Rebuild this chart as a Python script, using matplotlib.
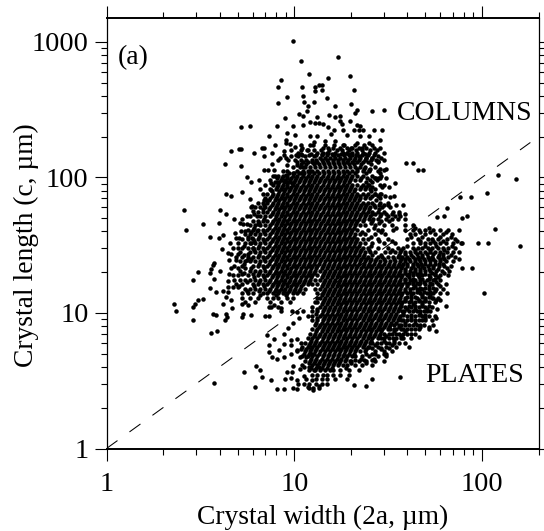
import matplotlib
matplotlib.use("Agg")
import numpy as np
import matplotlib.pyplot as plt
from matplotlib.ticker import LogLocator, NullFormatter

plt.rcParams['font.family'] = ['Liberation Serif', 'DejaVu Serif']

# isolated crystals (width, length)
upper_points = [
    (9.8,1020),(10.9,728),(12,577),(8.5,524),(8.2,462),(11,462),(12.9,465),(12.9,437),(13.6,484),(11.2,402),
    (9.2,390),(8.2,352),(11.3,360),(12.7,360),(11.9,335),(11.7,311),(10.6,295),(11.2,282),(8.9,273),(13.2,279),
    (12.9,252),(12.2,256),(13.6,252),(11.1,244),(9.9,241),(8.08,238),(5.82,241),(5.2,237),(9.2,211),(10.1,205),
    (7.36,202),(12.2,201),(13.2,201),(9,190),(12.7,184),(7.9,174),(9.05,179),(9.5,176),(10.1,168),(11,166),
    (12.2,174),(6.86,165),(6.7,165),(5.2,163),(5.05,163),(4.61,156),(6.14,151),(7.6,151),(6.86,143),(8.8,156),
    (10.5,151),(11.9,160),(8.4,139),(9,139),(9.6,144),(10.5,143),(11.4,143),(12.7,143),(4.26,125),(5.2,122),
    (7.6,125),(6.86,113),(7.24,113),(7.8,113),(9.15,124),(10.3,124),(11.2,120),(12.7,128),(5.6,100),(5.92,93),
    (6.53,95),(7.9,102),(9,105),(9.9,108),(10.8,108),(12.2,111),(4.34,75),(4.63,73),(5.24,78),(5.78,69.5),
    (5.95,62),(7.5,91),(7.5,81),(8.08,93),(9.15,93),(9.7,91),(2.6,57.3),(4,57.3),(4.34,54),(6.04,56.6),
    (6.86,68),(7.1,68),(6.78,58),(4.77,49.4),(5.24,49),
    (17.2,776),(15.1,542),(19.7,561),(20.7,444),(14,484),(14,440),(15,386),(16.5,338),(20,348),(21.6,316),
    (26,311),(30,316),(15.4,290),(16.4,279),(17.6,282),(21,300),(17.6,259),(18,249),(19.8,259),(21.6,244),
    (22.3,241),(14.2,249),(15.2,235),(16.3,225),(20.7,225),(22,225),(26.5,223),(29.3,223),(25,201),(28.6,190),
    (22.5,201),(19,205),(16.5,186),(14.6,186),(15.7,210),(25,179),(26,172),(30,151),(21.6,179),(20,165),
    (23,165),(18.2,172),(28,144),(15,151),(16.3,147),(19,151),(20.4,147),(22,143),(24,140),(26,138),(28,132),
]
side_points = [
    (39.6,128),(42.8,128),(45.5,114),(48.6,114),(34.6,91),(121,104),(152,97),(106,77),(76.5,72),(87,72),
    (65.5,59),(57.7,51),(62.5,52),(78.4,50),(83,52),(32.2,72),(27,75),(28.5,75),(30,88),(25,88),(27,99),
    (28.5,99),(28.5,108),(30,114),(25,114),
    (117.6,41.9),(95.8,33),(108,33),(158.5,31),(88,21.4),(77.8,21.4),(102.7,14.1),(75.6,24.8),(78.7,32.6),
    (36.8,3.39),(25.8,3.26),(24,2.91),(20.8,2.94),(41,5.65),(46.4,6.62),(56.7,7.42),(52.5,7.94),(56.7,9.2),
    (64.7,11.2),(57.9,10.7),(59.6,12.4),(54.9,12.8),
]
left_points = [
    (2.65,40.7),(3.28,45),(3.96,45.9),(3.56,36.6),(3.96,35.6),(4.17,37.4),(4.86,39.2),(5.15,46.4),(4.13,29.5),
    (4.46,27.5),(4.54,32.6),(3.72,23.5),(3.68,22.6),(3.09,19.9),(3.59,21),(3.56,19.8),(4.03,20.4),(2.88,17.4),
    (3.72,17.7),(3.56,15.3),(3.84,14.3),(4.17,14.5),(4.46,17.3),(4.43,15.6),(4.46,14.3),(4.34,13.2),(4.61,12.4),
    (4.67,10.9),(4.17,11.7),(3.26,12.7),(3.09,12.5),(2.96,11.6),(2.9,11),(2.29,11.7),(2.34,10.3),(2.9,8.9),
    (3.67,9.9),(3.84,9.7),(4.34,9.9),(4.37,9.4),(4.3,8.8),(5.24,9.4),(5.32,9.9),(5.87,9.7),(5.69,11.4),(5.24,11.7),
    (6.95,9.5),(7.3,9.5),(3.62,7.1),(3.9,7.4),(7.18,6.85),(7.76,6.47),(8.85,7),(9.3,7.7),(9.8,8.45),(10.6,9.2),
    (10.4,10.2),(9.7,10.4),(8.5,10.8),(7.76,11.4),(7.3,11),
    (5.39,3.67),(6.24,4.04),(6.61,3.78),(6.75,3.35),(7.5,3.22),(3.76,3.04),(6.17,2.83),(8.1,2.76),(8.85,2.73),
    (9.9,2.8),(10.3,2.76),(8.9,3.27),(9.6,3.3),(10.3,3.22),(9.1,3.67),(9.7,3.67),(9.9,4.06),(7.3,5.78),(7.3,5.16),
    (7.6,4.74),(8.1,4.6),(8.85,4.74),(8.3,5.3),(8.85,5.9),(9.6,5.78),(9.6,6.3),(10.3,6.47),(10.9,6.05),(10.9,5.46),
    (10.3,5.3),(9.6,5),(10.7,4.74),(11.5,4.74),(12.4,5),(11.3,4),(10.7,3.88),(12,4),(11.3,3.43),(12.4,3.18),
    (11.3,3),(11.9,2.84),(12.6,2.69),(13.6,2.88),(12.7,3.78),(13.6,4),
]

# crowded cores, estimated row by row: (length, [widths along that row])
upper_rows = [
    (223, [18.1,23.1]),
    (164, [14.2,15.1,16,17.5,19,20.4,22,24,26.5,28.6]),
    (152, [13.3,14.2,15.1,16.5,18.1,19.2,20.4,21.7,23.1,25,27]),
    (140, [13.7,14.65,15.55,16.5,17.5,18.65,19.8,21,22.4,24,26.1,29]),
    (130, [10.4,11.1,11.8,12.5,13.3,14.2,15.1,16,17,18.1,19.2,20.4,21.7,23.1,24.6,28]),
    (120, [9.8,10.75,11.45,12.15,12.9,13.7,14.65,15.55,16.5,17.5,18.65,19.8,21,22.4,23.8,26.9]),
    (111, [8.7,9.2,10.4,11.1,11.8,12.5,13.3,14.2,15.1,16,17,18.1,19.2,20.4,21.7,23.1,25,27.8]),
    (103, [7.7,8.2,8.7,9.2,9.8,10.4,11.1,11.8,12.5,13.3,14.2,15.1,16,17,18.1,19.2,20.4,21.7,23.1,26.1,29]),
    (95.4, [7.45,8.45,8.95,9.5,10.1,10.75,11.45,12.15,12.9,13.7,14.65,15.55,16.5,17.5,18.65,19.8,21,22.4,25.35,27.5]),
    (88.4, [7,7.7,8.2,8.7,9.2,9.8,10.4,11.1,11.8,12.5,13.3,14.2,15.1,16,17,18.1,19.2,20.4,21.7,23.1,24.6,28.5]),
    (81.8, [6.6,7.45,7.95,8.45,8.95,9.5,10.1,10.75,11.45,12.15,12.9,13.7,14.65,15.55,16.5,17.5,18.65,19.8,21,22.4,23.8,25.35,27]),
    (75.8, [6.8,7.2,7.7,8.2,8.7,9.2,9.8,10.4,11.1,11.8,12.5,13.3,14.2,15.1,16,17,18.1,19.2,20.4,21.7,23.1,24.6,27,29]),
    (70.2, [7,7.45,7.95,8.45,8.95,9.5,10.1,10.75,11.45,12.15,12.9,13.7,14.65,15.55,16.5,17.5,18.65,19.8,21,22.4,23.8,25.35,28.6]),
    (65, [6.4,6.8,7.2,7.7,8.2,8.7,9.2,9.8,10.4,11.1,11.8,12.5,13.3,14.2,15.1,16,17,18.1,19.2,20.4,21.7,23.1,24.6,26.1,28.5,31.4]),
    (60.2, [6.6,7,7.45,7.95,8.45,8.95,9.5,10.1,10.75,11.45,12.15,12.9,13.7,14.65,15.55,16.5,17.5,18.65,19.8,21,22.4,23.8,25.35,26.9,29.5,32.4]),
    (55.7, [6.4,6.8,7.2,7.7,8.2,8.7,9.2,9.8,10.4,11.1,11.8,12.5,13.3,14.2,15.1,16,17,18.1,19.2,20.4,21.7,23.1,24.6,26.1,27.8,30,33.4,36]),
    (51.6, [5.8,6.6,7,7.45,7.95,8.45,8.95,9.5,10.1,10.75,11.45,12.15,12.9,13.7,14.65,15.55,16.5,17.5,18.65,19.8,21,22.4,23.8,25.35,28.65,31.4,34.4,36.6]),
    (47.8, [6,6.4,6.8,7.2,7.7,8.2,8.7,9.2,9.8,10.4,11.1,11.8,12.5,13.3,14.2,15.1,16,17,18.1,19.2,20.4,21.7,23.1,26,29,32]),
    (44.3, [5.8,6.2,6.6,7,7.45,7.95,8.45,8.95,9.5,10.1,10.75,11.45,12.15,12.9,13.7,14.65,15.55,16.5,17.5,18.65,19.8,21,22.4,23.8,27,30,33,39,42.7]),
    (41, [5.65,6,6.4,6.8,7.2,7.7,8.2,8.7,9.2,9.8,10.4,11.1,11.8,12.5,13.3,14.2,15.1,16,17,18.1,19.2,20.4,21.7,24.6,27.8,29.5,33.4,39,42.7,46,50,55,60,66,75]),
    (38, [5.5,5.8,6.2,6.6,7,7.45,7.95,8.45,8.95,9.5,10.1,10.75,11.45,12.15,12.9,13.7,14.65,15.55,16.5,17.5,18.65,19.8,21,22.4,23.8,26.9,30.4,41.3,44,49.7,56.2,62,69]),
    (35.2, [5.3,5.65,6,6.4,6.8,7.2,7.7,8.2,8.7,9.2,9.8,10.4,11.1,11.8,12.5,13.3,14.2,15.1,16,17,18.1,19.2,20.4,21.7,23.1,24.6,27.8,31.4,40,45.4,51.3,54.5,58,65,72]),
    (32.6, [5.5,5.8,6.2,6.6,7,7.45,7.95,8.45,8.95,9.5,10.1,10.75,11.45,12.15,12.9,13.7,14.65,15.55,16.5,17.5,18.65,19.8,21,22.4,23.8,26,30,34.4,43,46.8,49.7,52.9,56.2,59.8,64,70,77]),
    (30.2, [5,5.65,6,6.4,6.8,7.2,7.7,8.2,8.7,9.2,9.8,10.4,11.1,11.8,12.5,13.3,14.2,15.1,16,17,18.1,19.2,20.4,21.7,23.1,24.6,27.8,31.4,35.5,38,42.7,45.4,48.2,51.3,54.5,58,61.7,66,72]),
    (28, [5.15,5.8,6.2,6.6,7,7.45,7.95,8.45,8.95,9.5,10.1,10.75,11.45,12.15,12.9,13.7,14.65,15.55,16.5,17.5,18.65,19.8,21,22.4,23.8,25.35,26.9,30.4,32.4,34.4,36.6,38.9,41.3,44,46.8,49.7,52.9,56.2,60,65,70,75]),
    (25.9, [4.9,5.3,5.65,6,6.4,6.8,7.2,7.7,8.2,8.7,9.2,9.8,10.4,11.1,11.8,12.5,13.3,14.2,15.1,16,17,18.1,19.2,20.4,21.7,23.1,24.6,27.8,29.5,31.4,33.4,35.5,37.7,40.1,42.7,45.4,48.2,51.3,54.5,58,62,66,72]),
    (24, [5.15,5.5,5.8,6.2,6.6,7,7.45,7.95,8.45,8.95,9.5,10.1,10.75,11.45,12.15,12.9,13.7,14.65,15.55,16.5,17.5,18.65,19.8,21,22.4,23.8,25.35,26.9,28.65,30.4,32.4,34.4,36.6,38.9,41.3,44,46.8,49.7,52.9,56.2,60,64,70]),
]
lower_rows = [
    (22.2, [4.8,5.3,6,6.4,6.8,7.2,7.7,8.2,8.7,9.2,9.8,10.4,11.1,11.8,12.5,13.3,14.2,15.1,16,17,18.1,19.2,20.4,21.7,23.1,24.6,26.1,27.8,29.5,31.4,33.4,35.5,37.7,40.1,42.7,45.4,48.2,51.3,55,59,63,68]),
    (20.5, [5.15,5.8,6.2,6.6,7,7.45,7.95,8.45,8.95,9.5,10.1,10.75,11.45,12.15,12.9,13.7,14.65,15.55,16.5,17.5,18.65,19.8,21,22.4,23.8,25.35,26.9,28.65,30.4,32.4,34.4,36.6,38.9,41.3,44,46.8,49.7,52.9,57,61,67]),
    (19, [4.7,5,5.65,6.4,6.8,7.2,7.7,8.2,8.7,9.2,9.8,10.4,11.1,11.8,12.5,13.3,14.2,15.1,16,17,18.1,19.2,20.4,21.7,23.1,24.6,26.1,27.8,29.5,31.4,33.4,35.5,37.7,40.1,42.7,45.4,48.2,52,56,60,66]),
    (17.6, [5.15,5.8,6.2,6.6,7,7.45,7.95,8.45,8.95,9.5,10.1,10.75,11.45,12.15,12.9,13.7,14.65,15.55,16.5,17.5,18.65,19.8,21,22.4,23.8,25.35,26.9,28.65,30.4,32.4,34.4,36.6,38.9,41.3,44,47,51,55,60]),
    (16.3, [4.9,5.3,6,6.4,6.8,7.2,7.7,8.2,8.7,9.2,9.8,10.4,11.1,11.8,12.5,13.3,14.2,15.1,16,17,18.1,19.2,20.4,21.7,23.1,24.6,26.1,27.8,29.5,31.4,33.4,35.5,37.7,40.1,43,46,50,54,58,64]),
    (15.1, [5.5,5.8,6.2,6.6,7,7.45,7.95,8.45,8.95,9.5,10.1,10.75,11.45,12.9,13.7,14.65,15.55,16.5,17.5,18.65,19.8,21,22.4,23.8,25.35,26.9,28.65,30.4,32.4,34.4,36.6,38.9,41.3,45,48,52,57,62]),
    (14, [5.3,5.65,6,6.8,7.2,7.7,8.2,8.7,9.2,9.8,10.4,11.1,13.3,14.2,15.1,16,17,18.1,19.2,20.4,21.7,23.1,24.6,26.1,27.8,29.5,31.4,33.4,35.5,37.7,40.1,43,47,51,55,60,65]),
    (13, [5.3,5.8,6.4,7.2,7.7,8.2,9.2,9.8,13.3,13.7,14.65,15.55,16.5,17.5,18.65,19.8,21,22.4,23.8,25.35,26.9,28.65,30.4,32.4,34.4,36.6,39,42,45,50,54,58]),
    (12, [5.5,6.2,7.45,8.45,9.5,12.9,13.3,14.2,15.1,16,17,18.1,19.2,20.4,21.7,23.1,24.6,26.1,27.8,29.5,31.4,33.4,35.5,37.7,41,44,48,52,56]),
    (11.1, [7.5,8.2,12.5,13.7,14.65,15.55,16.5,17.5,18.65,19.8,21,22.4,23.8,25.35,26.9,28.65,30.4,32.4,34.4,36.6,39,42,46,50,54]),
    (10.3, [8.5,11.1,12.5,13.3,14.2,15.1,16,17,18.1,19.2,20.4,21.7,23.1,24.6,26.1,27.8,29.5,31.4,33.4,35.5,37.7,41,45,49,53]),
    (9.5, [11.8,12.5,13.7,14.65,15.55,16.5,17.5,18.65,19.8,21,22.4,23.8,25.35,26.9,28.65,30.4,32.4,34.4,36.6,40,44,48,52,56]),
    (8.8, [12.5,13.3,14.2,15.1,16,17,18.1,19.2,20.4,21.7,23.1,24.6,26.1,27.8,29.5,31.4,33.4,35.5,38,42,46,50,54]),
    (8.2, [12.9,13.7,14.65,15.55,16.5,17.5,18.65,19.8,21,22.4,23.8,25.35,26.9,28.65,30.4,32.4,34,37,41,45,49,55]),
    (7.6, [12.5,13.3,14.2,15.1,16,17,18.1,19.2,20.4,21.7,23.1,24.6,26.1,27.8,29.5,31.4,32.4,35,38,42,46,52]),
    (7, [12.15,12.9,13.7,14.65,15.55,16.5,17.5,18.65,19.8,21,22.4,23.8,25.35,26.9,28.65,30,33,36,40,44]),
    (6.5, [11.8,12.5,13.3,14.2,15.1,16,17,18.1,19.2,20.4,21.7,23.1,24.6,26.1,27.8,29,32,35,38,42]),
    (6, [11.45,12.15,12.9,13.7,14.65,15.55,16.5,17.5,18.65,19.8,21,22.4,23.8,25.35,26,29,32,36,39]),
    (5.6, [11,11.8,12.5,13.3,14.2,15.1,16,17,18.1,19.2,20.4,21.7,23.1,24.6,25,28,31,35]),
    (5.2, [10.4,11.45,12.15,12.9,13.7,14.65,15.55,16.5,17.5,18.65,19.8,21,22.4,23.8,27,30,33]),
    (4.8, [11,11.8,12.5,13.3,14.2,15.1,16,17,18.1,19.2,20.4,21,23,25,28,31]),
    (4.4, [11.4,12.15,12.9,13.7,14.65,15.55,16.5,17.5,18.65,19.8,20,22,24,27,30]),
    (4.1, [11,12.5,13.3,14.2,15.1,16,17,18.1,19,21,23,26]),
    (3.8, [12,12.9,13.7,14.65,15.55,16,17.5,19.5,22]),
    (3.5, [12.5,13.3,14.2,15,16,17.5,19.5]),
    (3.25, [11.5,13,14,15,16.5,19]),
    (3, [10.5,12,13,14,15]),
    (2.8, [12,12.6,13.5]),
]
# in-between rows that close up the solid black cores
column_fill_rows = [
    (150, [10.9,12.3,14,15.8,17.8,20.1,23.7]),
    (125, [10.9,11.6,12.7,13.5,14.4,15.3,16.25,17.25,18.35,19.5,20.8,22.6,25.5]),
    (107, [9.35,9.95,10.6,11.25,12,12.7,13.5,14.4,15.3,16.25,17.25,18.35,19.5,21.1,24.2]),
    (99, [8.05,8.6,9.1,9.65,10.25,10.9,11.6,12.3,13.1,13.95,14.9,15.8,16.8,17.8,18.9,20.1,22.8,26.8]),
    (92, [7.85,8.3,8.85,9.35,9.95,10.6,11.25,12,12.7,13.5,14.4,15.3,16.25,17.25,18.35,19.5,24,26]),
    (85, [8.05,8.6,9.1,9.65,10.25,10.9,11.6,12.3,13.1,13.95,14.9,15.8,16.8,17.8,18.9,20.1,22.7]),
    (78.8, [7.6,8.3,8.85,9.35,9.95,10.6,11.25,12,12.7,13.5,14.4,15.3,16.25,17.25,18.35,19.5,20.8,25.7]),
    (72.9, [7.6,8.05,8.6,9.1,9.65,10.25,10.9,11.6,12.3,13.1,13.95,14.9,15.8,16.8,17.8,18.9,20.1,21.4,24.2]),
    (67.6, [7.3,7.85,8.3,8.85,9.35,9.95,10.6,11.25,12,12.7,13.5,14.4,15.3,16.25,17.25,18.35,19.5,20.8,22,27.3]),
    (62.6, [6.9,7.6,8.05,8.6,9.1,9.65,10.25,10.9,11.6,12.3,13.1,13.95,14.9,15.8,16.8,17.8,18.9,20.1,21.4,22.7,30]),
    (58, [7.3,7.85,8.3,8.85,9.35,9.95,10.6,11.25,12,12.7,13.5,14.4,15.3,16.25,17.25,18.35,19.5,20.8,22,23.4,25,28.2]),
    (53.6, [6.1,7.6,8.05,8.6,9.1,9.65,10.25,10.9,11.6,12.3,13.1,13.95,14.9,15.8,16.8,17.8,18.9,20.1,21.4,22.7,24.2,27,33]),
    (49.7, [6.9,7.85,8.3,8.85,9.35,9.95,10.6,11.25,12,12.7,13.5,14.4,15.3,16.25,17.25,18.35,19.5,20.8,22,24.9,30.9]),
    (46, [6.5,7.6,8.05,8.6,9.1,9.65,10.25,10.9,11.6,12.3,13.1,13.95,14.9,15.8,16.8,17.8,18.9,20.1,21.4,25.7,28.2]),
    (42.6, [6.1,7.3,7.85,8.3,8.85,9.35,9.95,10.6,11.25,12,12.7,13.5,14.4,15.3,16.25,17.25,18.35,19.5,20.8,26.5,35,44,52]),
    (39.5, [5.9,6.9,7.6,8.05,8.6,9.1,9.65,10.25,10.9,11.6,12.3,13.1,13.95,14.9,15.8,16.8,17.8,18.9,20.1,23,29,47,53,64]),
    (36.6, [5.7,6.5,7.3,7.85,8.3,8.85,9.35,9.95,10.6,11.25,12,12.7,13.5,14.4,15.3,16.25,17.25,18.35,19.5,20.8,25.7,42,48,60,68]),
    (33.9, [6.1,6.9,7.6,8.05,8.6,9.1,9.65,10.25,10.9,11.6,12.3,13.1,13.95,14.9,15.8,16.8,17.8,18.9,20.1,21.4,28.2,33,47,55,62,74]),
    (31.4, [5.4,6.5,7.3,7.85,8.3,8.85,9.35,9.95,10.6,11.25,12,12.7,13.5,14.4,15.3,16.25,17.25,18.35,19.5,20.8,22,25.7,40,50,57,69]),
    (29, [6.1,6.9,7.6,8.05,8.6,9.1,9.65,10.25,10.9,11.6,12.3,13.1,13.95,14.9,15.8,16.8,17.8,18.9,20.1,21.4,22.7,24.9,33,37,44,53,63]),
    (26.9, [5.4,6.5,7.3,7.85,8.3,8.85,9.35,9.95,10.6,11.25,12,12.7,13.5,14.4,15.3,16.25,17.25,18.35,19.5,20.8,22,23.4,26,29,36,42,48,59,68]),
    (25, [5.9,6.9,7.6,8.05,8.6,9.1,9.65,10.25,10.9,11.6,12.3,13.1,13.95,14.9,15.8,16.8,17.8,18.9,20.1,21.4,22.7,24.2,25.7,27.3,30,34,39,46,52,63]),
    (23.1, [5.4,6.5,7.3,7.85,8.3,8.85,9.35,9.95,10.6,11.25,12,12.7,13.5,14.4,15.3,16.25,17.25,18.35,19.5,20.8,22,23.4,24.9,26.5,28.2,30,31.9,33.9,36,38,43,47.5,53,59]),
    (21.3, [5.9,6.9,7.6,8.05,8.6,9.1,9.65,10.25,10.9,11.6,12.3,13.1,14,14.9,15.8,16.8,17.8,18.9,20.1,21.4,22.7,24.2,25.7,27.3,29,30.9,32.9,35,37.2,42,49,55,65]),
    (19.8, [5.4,6.5,7.3,7.85,8.3,8.85,9.35,9.95,10.6,11.25,12,12.7,14.4,15.3,16.25,17.25,18.35,19.5,20.8,22,23.4,24.9,26.5,28.2,30,31.9,33.9,36,39,43,47,54,63]),
    (18.3, [6.1,6.9,7.6,8.05,8.6,9.1,9.65,10.25,10.9,11.6,12.3,14,14.9,15.8,16.8,17.8,18.9,20.1,21.4,22.7,24.2,25.7,27.3,29,30.9,32.9,35,37.2,41,46,53,58]),
    (17, [5.6,6.5,7.3,7.85,8.3,8.85,9.35,9.95,10.6,11.25,12,14.4,15.3,16.25,17.25,18.35,19.5,20.8,22,23.4,24.9,26.5,28.2,30,31.9,33.9,36,39,43,49,57]),
    (15.7, [5.1,6.1,6.9,7.6,8.05,8.6,9.1,9.65,10.25,10.9,14,14.9,15.8,16.8,17.8,18.9,20.1,21.4,22.7,24.2,25.7,27.3,29,30.9,32.9,35,37.2,40,44,52,60]),
    (14.6, [5.6,6.5,7.3,7.85,8.3,8.85,9.35,9.95,10.6,14.4,15.3,16.25,17.25,18.35,19.5,20.8,22,23.4,24.9,26.5,28.2,30,31.9,33.9,36,39,46,56]),
]
plate_fill_rows = [
    (13.5, [6.6,8,9,14,14.9,15.8,16.8,17.8,18.9,20.1,21.4,22.7,24.2,25.7,27.3,29,30.9,32.9,35,37.2,42,48,53]),
    (12.5, [14.4,15.3,16.25,17.25,18.35,19.5,20.8,22,23.4,24.9,26.5,28.2,30,31.9,33.9,36,39,46,50,57]),
    (11.6, [14,14.9,15.8,16.8,17.8,18.9,20.1,21.4,22.7,24.2,25.7,27.3,29,30.9,32.9,35,37.2,43,48]),
    (10.7, [13.2,14.4,15.3,16.25,17.25,18.35,19.5,20.8,22,23.4,24.9,26.5,28.2,30,31.9,33.9,36,40,44,51]),
    (9.9, [13.1,14,14.9,15.8,16.8,17.8,18.9,20.1,21.4,22.7,24.2,25.7,27.3,29,30.9,32.9,35,38,47]),
    (9.15, [13.2,14.4,15.3,16.25,17.25,18.35,19.5,20.8,22,23.4,24.9,26.5,28.2,30,31.9,33.9,36,42,50]),
    (8.5, [13.1,14,14.9,15.8,16.8,17.8,18.9,20.1,21.4,22.7,24.2,25.7,27.3,29,30.9,32.9,35,39,44]),
    (7.9, [13.5,14.4,15.3,16.25,17.25,18.35,19.5,20.8,22,23.4,24.9,26.5,28.2,30,31.9,36,47]),
    (7.3, [13,14,14.9,15.8,16.8,17.8,18.9,20.1,21.4,22.7,24.2,25.7,27.3,29,34,39]),
    (6.75, [12.7,13.5,14.4,15.3,16.25,17.25,18.35,19.5,20.8,22,23.4,24.9,26.5,28.2,31,37]),
    (6.25, [12.3,13.1,14,14.9,15.8,16.8,17.8,18.9,20.1,21.4,22.7,24.2,25.7,30,34]),
    (5.8, [12,12.7,13.5,14.4,15.3,16.25,17.25,18.35,19.5,20.8,22,23.4,27,33]),
    (5.4, [11.6,12.3,13.1,14,14.9,15.8,16.8,17.8,18.9,20.1,21.4,24.2,29]),
    (5, [11.25,12,12.7,13.5,14.4,15.3,16.25,17.25,18.35,19.5,20.8,26,31]),
    (4.6, [12.3,13.1,14,14.9,15.8,16.8,17.8,18.9,22.7,26.5]),
    (4.25, [12,12.7,13.5,14.4,15.3,16.25,17.25,20.1,24.2]),
    (3.95, [12.3,13.1,14,14.9,15.8,18.9]),
]
# the looser fringe around the two cores
fringe_rows = [
    (172, [10.8,12.6,14.5,16.2,18.5,21,23.5]),
    (158, [9.6,10.8,11.7,12.8,13.9,15.4,16.8,18,19.6,21.2,23,25.4,27.5]),
    (146, [8.8,10.2,11,12,13,14,15,16.1,17.1,18.3,19.5,21.2,23,24.8,26.6]),
    (135, [8.2,9.3,10.1,10.8,11.6,12.4,13.1,14,15,16,17.1,18.2,19.4,20.7,22,23.7,25.5,27.4,30]),
    (116, [21.5,23.4,25.4,28.5,31]),
    (99, [24.5,28,31]),
    (85, [24,26,29.5,32]),
    (72.9, [22.5,26,27.8,30.5,34]),
    (62.6, [24.2,26.5,28.3,31.5,35,38]),
    (53.6, [25.8,29,31,36,39]),
    (49.7, [23.5,26.4,28,33,35.5,39]),
    (27, [39,45,51,55,62]),
    (24.8, [37,41,44,49,55,60]),
    (22.8, [40,45,50,56,62]),
    (21, [39,44,47,52,58]),
    (19.4, [41,45,50,56]),
    (17.9, [39,43,48,52,56]),
    (16.7, [41,45,47,53]),
    (15.4, [43,47,50,55]),
    (14.2, [41.5,45,49,53]),
    (13.2, [40,44,48,52]),
    (12.2, [39,42,46,50]),
    (11.3, [37,41,44,48,52]),
    (10.4, [38.5,43,47,51]),
    (9.6, [38,42,46,50]),
    (8.9, [37,40,44,48]),
    (8.2, [36,39,43,47]),
    (7.6, [34,37,40,44]),
    (7, [32,35,38,42]),
    (6.5, [30,33.5,37]),
    (6, [27.5,31,34]),
    (5.5, [26,29,32]),
    (5, [24,27,30]),
    (4.5, [21,23.5,26]),
    (60, [5.9,6.2]),
    (52, [5.6,6.3]),
    (45, [5.35,5.6,6.4]),
    (40, [5.2,5.5,6.3]),
    (36, [4.9,5.1,5.95]),
    (33, [5,5.9]),
    (30, [4.7,5.3,6]),
    (27, [4.6,5,5.7]),
    (24.5, [4.5,4.9,5.6]),
    (21.5, [4.6,5,5.5]),
    (19.5, [4.5,5.3,6]),
    (17.5, [4.8,5.5]),
    (15.5, [4.7,5]),
]

guide_ends = [1, 181]
x_ticks = [1, 10, 100]
x_ticklabels = ['1', '10', '100']
y_ticks = [1, 10, 100, 1000]
y_ticklabels = ['1', '10', '100', '1000']

width = [p[0] for p in upper_points + side_points + left_points]
length = [p[1] for p in upper_points + side_points + left_points]
for row_length, row_widths in upper_rows + lower_rows + column_fill_rows + plate_fill_rows + fringe_rows:
    for w in row_widths:
        width.append(w)
        length.append(row_length)

fig = plt.figure(figsize=(5.44, 5.31), dpi=100)
ax = fig.add_axes([106.5/544, (531-448.5)/531, 432/544, 430.5/531])

ax.scatter(width, length, s=10.5, color='black', linewidths=0, zorder=3)
ax.plot(guide_ends, guide_ends, color='black', lw=0.75, dashes=(13, 14.2), zorder=4)

ax.set_xscale('log')
ax.set_yscale('log')
ax.set_xlim(1, 200)
ax.set_ylim(1, 1500)

ax.set_xticks(x_ticks)
ax.set_xticklabels(x_ticklabels)
ax.set_yticks(y_ticks)
ax.set_yticklabels(y_ticklabels)
for axis in (ax.xaxis, ax.yaxis):
    axis.set_minor_locator(LogLocator(base=10, subs=(2, 3, 4, 5, 6, 7, 8, 9), numticks=12))
    axis.set_minor_formatter(NullFormatter())

ax.tick_params(which='major', direction='out', length=8.5, width=0.8, top=True, right=True, labelsize=20.5)
ax.tick_params(which='minor', direction='out', length=4.3, width=0.8, top=True, right=True)
ax.tick_params(axis='x', which='major', pad=8.5)
ax.tick_params(axis='y', which='major', pad=4.5)

ax.spines['top'].set_linewidth(1.4)
ax.spines['bottom'].set_linewidth(1.4)
ax.spines['left'].set_linewidth(0.9)
ax.spines['right'].set_linewidth(0.9)

ax.set_xlabel('Crystal width (2a, \u00b5m)', fontsize=19.8)
ax.set_ylabel('Crystal length (c, \u00b5m)', fontsize=19.8)
ax.xaxis.set_label_coords(0.5, -0.131)
ax.yaxis.set_label_coords(-0.157, 0.472)

ax.text(0.027, 0.909, '(a)', transform=ax.transAxes, fontsize=20, va='center', ha='left')
ax.text(0.672, 0.779, 'COLUMNS', transform=ax.transAxes, fontsize=20, va='center', ha='left', zorder=5)
ax.text(0.737, 0.17, 'PLATES', transform=ax.transAxes, fontsize=20, va='center', ha='left', zorder=5)

plt.savefig('out.png', dpi=100)
plt.close()
